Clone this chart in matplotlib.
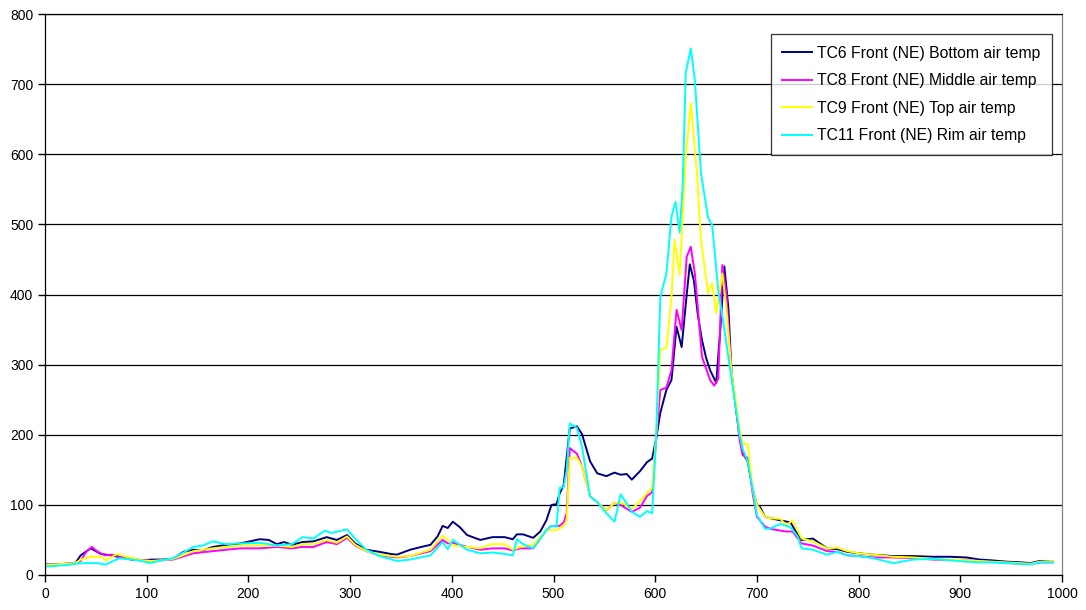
import matplotlib
matplotlib.use("Agg")
import matplotlib.pyplot as plt

plt.rcParams['font.family'] = ['Liberation Sans', 'DejaVu Sans']

labels = ["TC6 Front (NE) Bottom air temp", "TC8 Front (NE) Middle air temp",
          "TC9 Front (NE) Top air temp", "TC11 Front (NE) Rim air temp"]
colors = ["#000080", "#FF00FF", "#FFFF00", "#00FFFF"]

tc6_x = [0,10,20,30,35,45,55,65,75,85,95,105,115,126,136,146,155,165,178,192,211,220,228,235,243,253,264,277,287,297,305,316,329,340,346,359,370,379,386,391,396,401,408,415,428,440,452,460,464,470,480,487,493,498,503,506,510,516,523,528,536,543,552,560,566,572,577,585,592,597,601,605,611,616,621,626,631,634,638,642,646,650,654,660,664,668,672,675,680,683,686,691,696,700,703,708,713,723,733,740,744,755,769,779,789,800,814,834,854,873,890,906,919,930,946,960,969,978,991]
tc6_y = [15,15,16,17,28,38,30,28,25,22,21,22,22,23,33,36,35,40,43,45,51,50,44,47,43,47,48,54,50,57,45,36,33,30,29,36,40,43,55,70,67,76,68,57,50,54,54,51,58,58,53,62,78,100,101,116,128,209,212,201,162,145,141,146,143,144,136,148,161,166,195,231,264,278,354,325,400,443,420,370,335,310,292,274,350,440,380,290,231,200,174,162,121,100,97,83,81,78,75,58,50,52,38,37,33,31,29,27,27,26,26,25,22,21,19,18,17,20,20]

tc8_x = [0,10,20,30,35,40,46,52,59,66,75,85,95,105,115,126,146,165,178,192,211,228,243,253,264,277,287,297,305,316,329,346,359,379,391,396,401,415,428,440,452,460,467,480,493,498,506,510,513,516,523,528,536,543,552,560,567,577,585,592,597,601,605,611,616,621,626,631,635,639,642,646,654,658,662,666,670,675,680,683,686,691,696,700,708,713,720,729,735,744,755,769,779,789,800,814,834,854,873,906,930,946,969,978,991]
tc8_y = [14,15,16,17,20,32,40,33,28,29,26,24,21,20,21,22,31,34,36,38,38,40,38,40,40,47,44,53,42,34,28,25,27,34,50,45,46,40,36,38,38,35,38,38,64,70,70,75,88,181,173,155,112,104,92,103,99,90,96,113,118,195,264,267,292,378,349,454,468,430,380,311,278,270,280,442,400,290,231,193,171,167,115,83,69,66,64,62,62,45,42,34,33,28,27,25,25,24,22,21,19,17,16,18,18]

tc9_x = [0,10,20,30,35,45,55,60,66,71,80,95,105,115,126,146,165,178,192,211,228,243,253,264,277,287,297,305,316,329,346,359,379,391,396,401,415,428,440,452,460,467,480,493,498,503,510,513,516,523,528,536,543,552,560,567,577,585,592,597,601,605,611,616,619,624,630,635,641,645,652,656,660,666,670,675,680,683,686,691,696,700,708,713,723,729,735,744,755,769,779,789,800,814,834,854,873,906,930,946,969,978,991]
tc9_y = [14,15,16,17,22,26,26,21,26,30,26,21,20,21,23,34,38,40,42,42,42,40,44,44,50,46,55,43,34,29,26,27,36,56,50,42,40,38,44,44,36,40,43,64,64,64,70,78,167,167,155,112,104,92,103,103,94,105,117,124,200,321,324,396,478,428,596,673,573,478,402,416,373,430,380,290,240,207,188,186,121,100,83,81,80,71,78,52,48,38,39,34,31,29,26,25,23,21,19,18,16,19,20]

tc11_x = [0,10,20,30,40,50,60,73,85,95,103,115,126,146,155,165,178,192,211,228,243,253,264,275,282,297,305,316,329,346,359,379,391,396,401,415,428,440,452,460,464,470,480,493,498,503,506,510,513,516,523,528,536,543,552,560,566,572,577,585,592,597,601,605,611,616,620,624,627,630,635,639,645,652,656,662,668,675,680,683,686,691,696,700,708,713,723,733,740,744,755,769,779,789,800,814,834,854,873,906,919,930,946,969,978,991]
tc11_y = [12,13,14,16,17,17,15,24,22,20,17,21,24,40,42,48,44,45,46,42,44,54,52,63,60,65,52,36,27,20,22,28,47,37,50,36,31,32,30,28,51,44,38,64,70,69,124,125,150,216,210,183,112,104,88,76,115,102,90,83,91,88,200,396,430,511,532,488,554,716,751,706,573,509,499,406,350,280,231,200,180,162,121,85,66,66,73,68,55,38,36,29,33,28,27,24,17,22,23,19,18,18,17,15,18,18]

series_x = [tc6_x, tc8_x, tc9_x, tc11_x]
series_y = [tc6_y, tc8_y, tc9_y, tc11_y]

x_ticks = list(range(0, 1001, 100))
y_ticks = list(range(0, 801, 100))

fig = plt.figure(figsize=(10.86, 6.10), dpi=100)
ax = fig.add_axes([45/1086, 1 - 575/610, (1062 - 45)/1086, (575 - 14)/610])

for xs, ys, c, lab in zip(series_x, series_y, colors, labels):
    ax.plot(xs, ys, color=c, lw=1.4, label=lab, solid_joinstyle='round')

ax.set_xlim(0, 1000)
ax.set_ylim(0, 800)
ax.set_xticks(x_ticks)
ax.set_yticks(y_ticks)
ax.tick_params(axis='both', direction='out', length=5, width=1, labelsize=10, colors='black')
ax.tick_params(axis='x', pad=4)
ax.yaxis.grid(True, color='black', lw=0.9)
ax.set_axisbelow(True)
for s in ['left', 'bottom', 'top']:
    ax.spines[s].set_color('black')
    ax.spines[s].set_linewidth(0.9)
ax.spines['right'].set_color('#808080')
ax.spines['right'].set_linewidth(0.9)

leg = ax.legend(loc='upper right', bbox_to_anchor=((1052 - 45)/1017, (575 - 34)/561),
                borderaxespad=0, frameon=True, fancybox=False, fontsize=11.3,
                handlelength=1.9, labelspacing=0.8, borderpad=0.75, handletextpad=0.3)
leg.get_frame().set_edgecolor('black')
leg.get_frame().set_linewidth(0.9)
for line in leg.get_lines():
    line.set_linewidth(1.4)

fig.savefig("out.png", dpi=100)
